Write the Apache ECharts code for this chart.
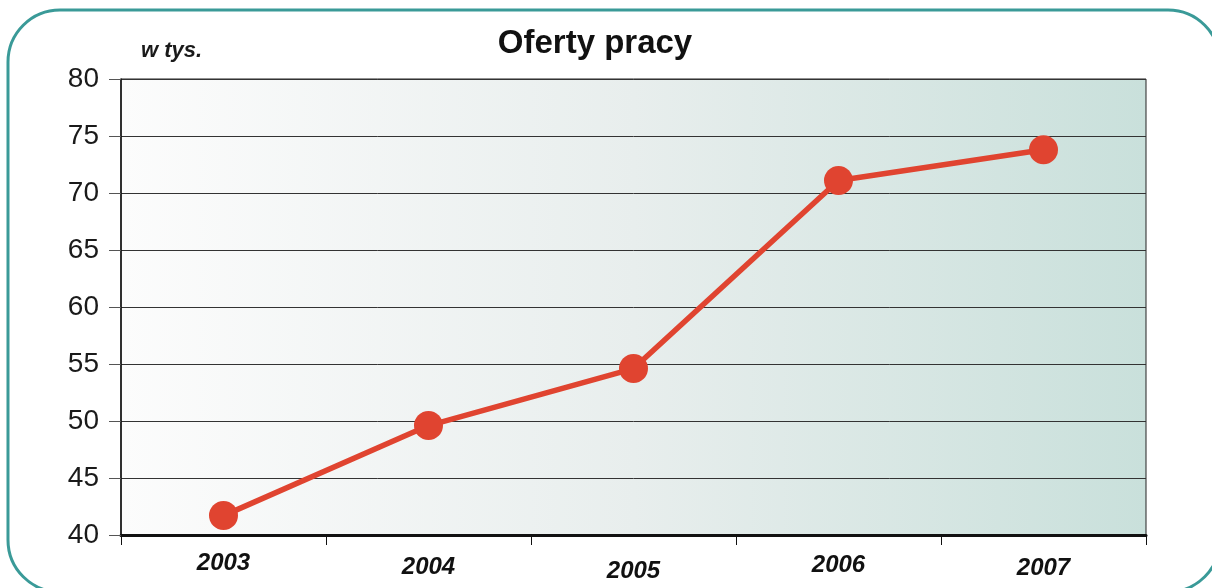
<!DOCTYPE html>
<html>
<head>
<meta charset="utf-8">
<script src="https://cdn.jsdelivr.net/npm/echarts@6/dist/echarts.min.js"></script>
<style>
  html, body { margin: 0; padding: 0; background: #fff; }
  #main { width: 1212px; height: 588px; }
</style>
</head>
<body>
<div id="main"></div>
<script>
// dane
var years = ['2003', '2004', '2005', '2006', '2007'];
var offers = [41.7, 49.6, 54.6, 71.1, 73.8];
var yTicks = [40, 45, 50, 55, 60, 65, 70, 75, 80];
// etykiety lat w oryginale lekko "skaczą" w pionie
var labelShift = [0, 4, 8, 2, 5];

var myChart = echarts.init(document.getElementById('main'));

var option = {
  backgroundColor: '#fff',
  animation: false,
  title: {
    text: 'Oferty pracy',
    left: 590,
    top: 22,
    textAlign: 'center',
    textStyle: {
      fontFamily: 'Liberation Sans, Arial, sans-serif',
      fontSize: 33,
      fontWeight: 'bold',
      color: '#111'
    }
  },
  graphic: [
    {
      type: 'rect',
      silent: true,
      shape: { x: 8, y: 10, width: 1212, height: 582, r: 52 },
      style: { fill: 'none', stroke: '#3a9a98', lineWidth: 3 },
      z: -1
    },
    {
      type: 'text',
      left: 141,
      top: 40,
      style: {
        text: 'w tys.',
        fill: '#1a1a1a',
        font: 'italic bold 22px "Liberation Sans", Arial, sans-serif'
      }
    }
  ],
  grid: {
    left: 121,
    right: 66,
    top: 79,
    bottom: 53,
    show: true,
    borderColor: '#222',
    borderWidth: 1,
    backgroundColor: new echarts.graphic.LinearGradient(0, 0, 1, 0, [
      { offset: 0, color: '#fcfcfc' },
      { offset: 0.5, color: '#e8eeed' },
      { offset: 1, color: '#c9e0db' }
    ])
  },
  xAxis: {
    type: 'category',
    data: years.map(function (y, i) {
      return { value: y, textStyle: { padding: [labelShift[i], 0, 0, 0] } };
    }),
    boundaryGap: true,
    axisLine: { lineStyle: { color: '#111', width: 3 } },
    axisTick: { show: true, length: 10, lineStyle: { color: '#111', width: 1 } },
    axisLabel: {
      margin: 16,
      fontFamily: '"Liberation Sans Narrow", "Liberation Sans", Arial, sans-serif',
      fontSize: 24,
      fontWeight: 'bold',
      fontStyle: 'italic',
      color: '#111'
    }
  },
  yAxis: {
    type: 'value',
    min: yTicks[0],
    max: yTicks[yTicks.length - 1],
    interval: 5,
    axisLine: { show: true, lineStyle: { color: '#111', width: 1.5 } },
    axisTick: { show: true, inside: false, length: 12, lineStyle: { color: '#555' } },
    axisLabel: {
      margin: 22,
      fontFamily: '"Liberation Sans", Arial, sans-serif',
      fontSize: 28,
      color: '#1a1a1a'
    },
    splitLine: { lineStyle: { color: '#333', width: 1 } }
  },
  series: [
    {
      name: 'Oferty pracy',
      type: 'line',
      data: offers,
      symbol: 'circle',
      symbolSize: 29,
      lineStyle: { color: '#e04430', width: 5.5 },
      itemStyle: { color: '#e04430' }
    }
  ]
};

myChart.setOption(option);
</script>
</body>
</html>
